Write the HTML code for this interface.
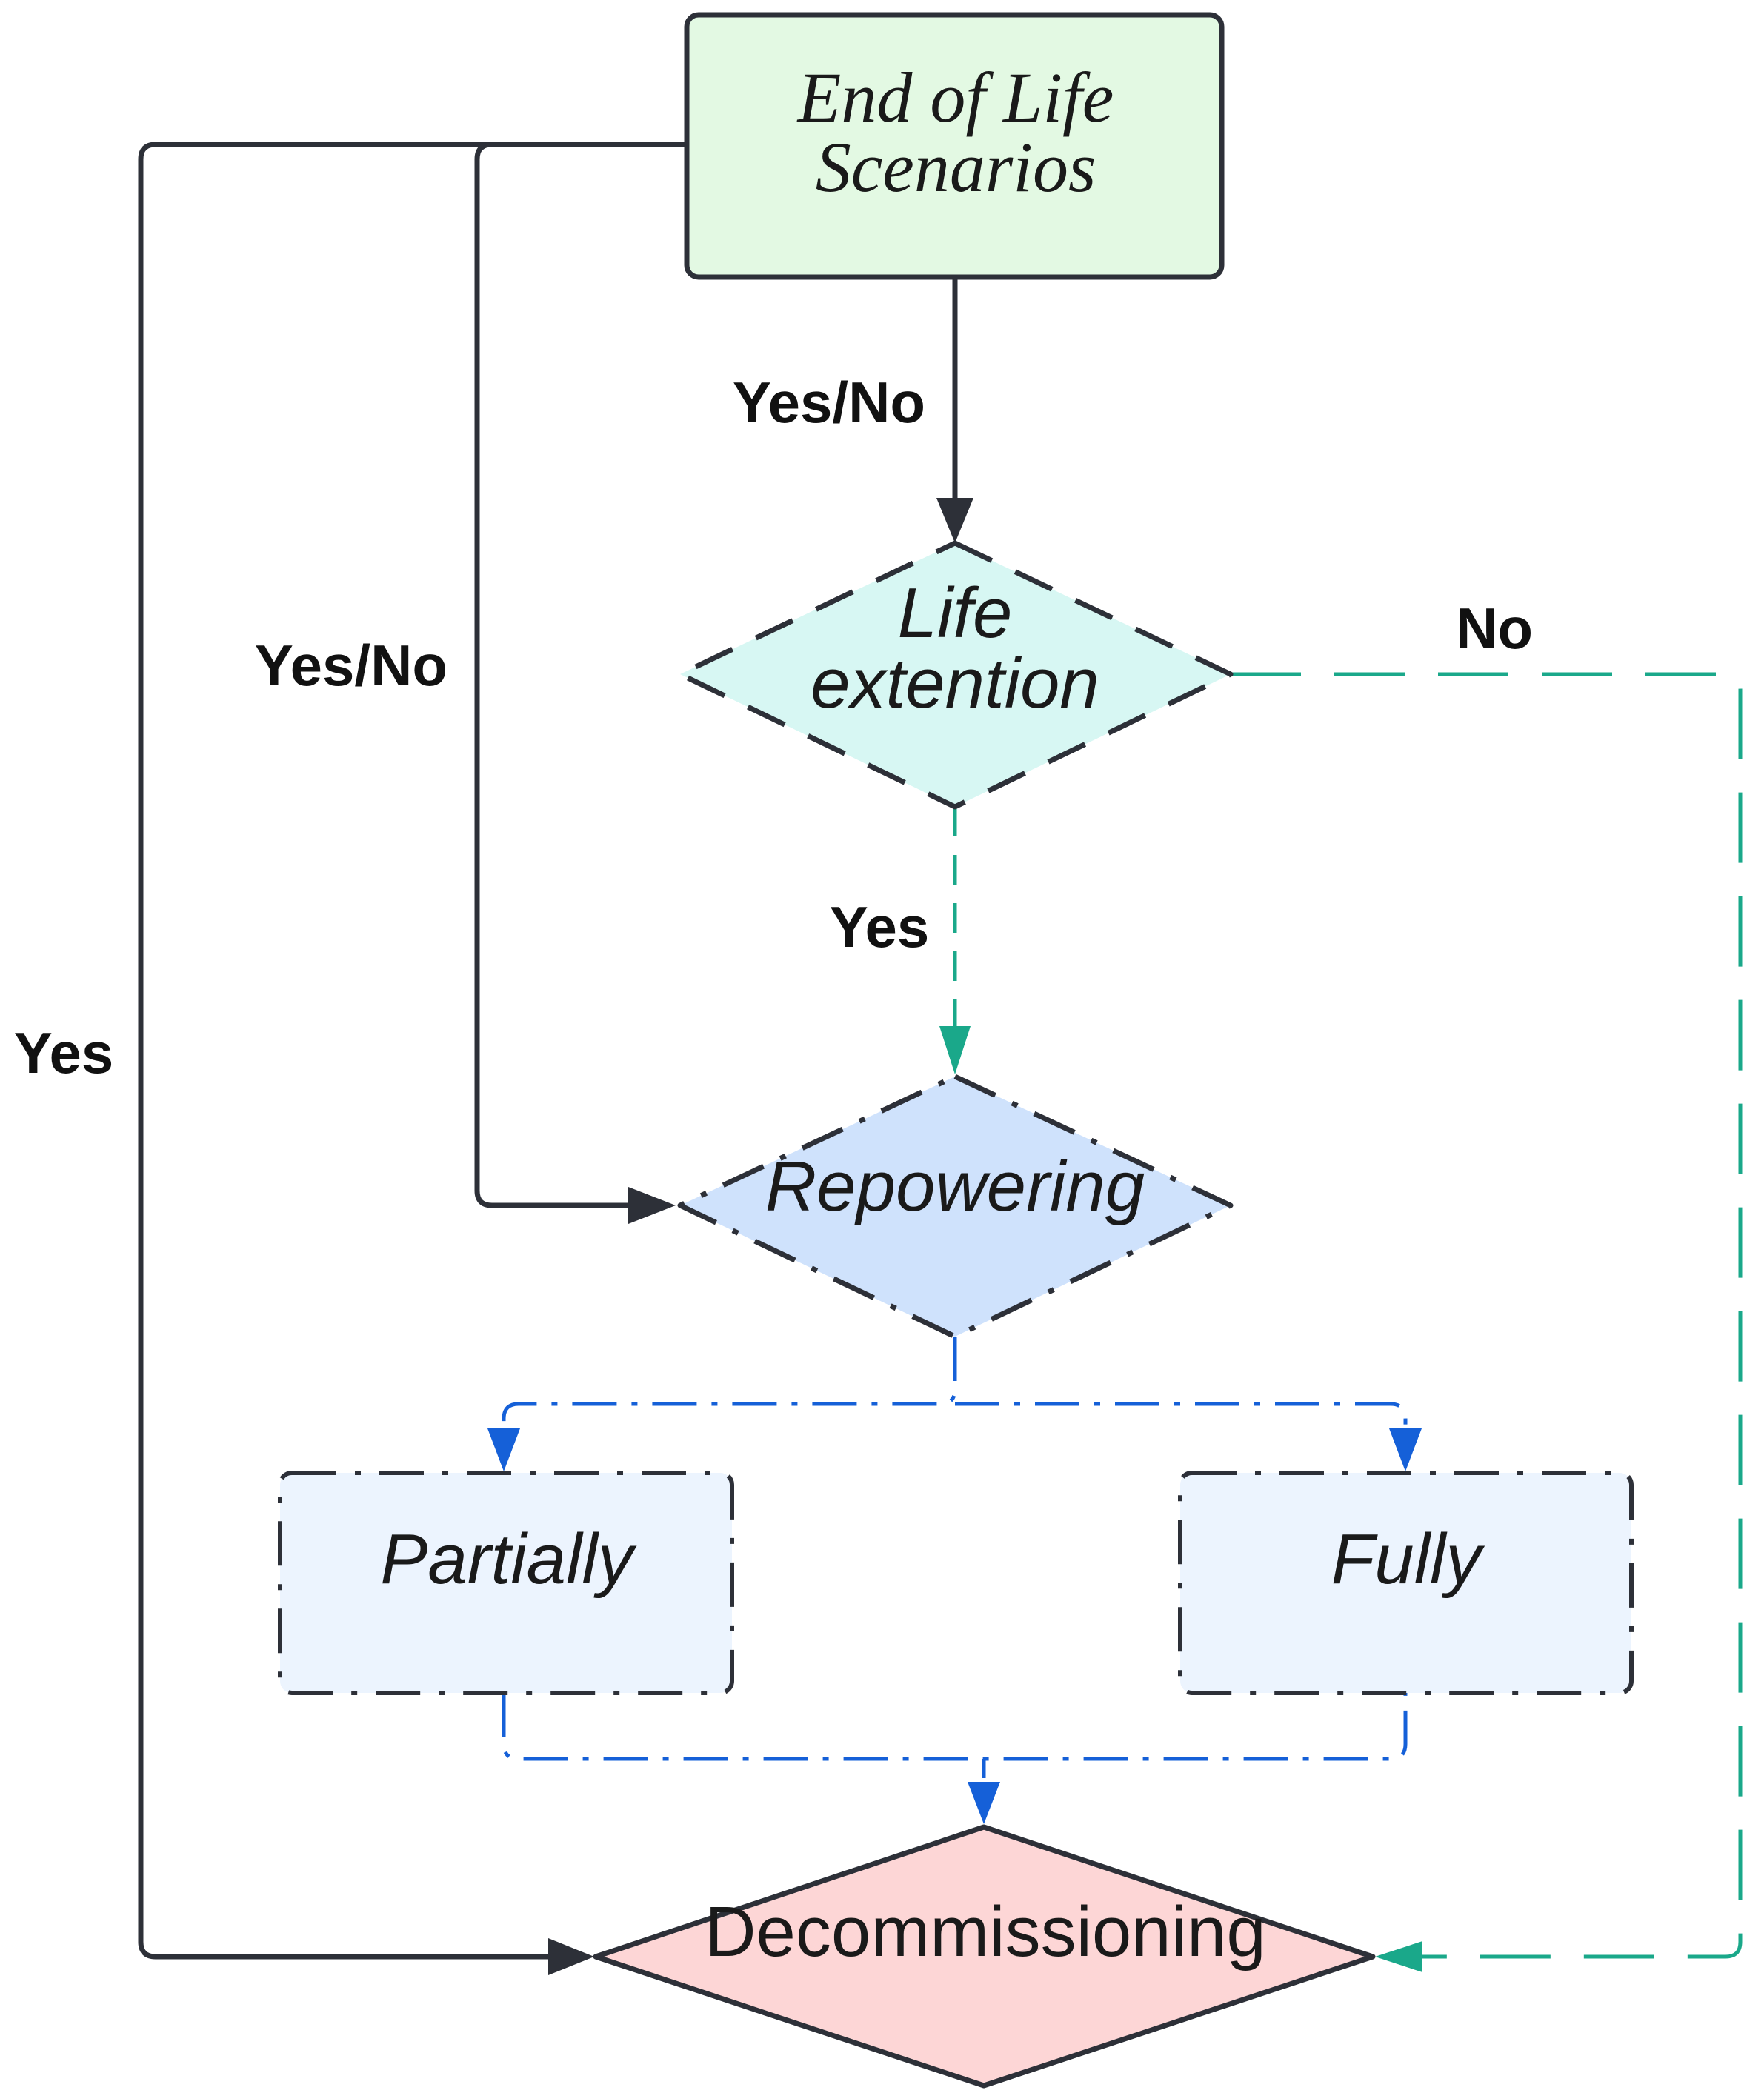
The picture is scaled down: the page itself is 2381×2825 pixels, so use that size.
<!DOCTYPE html>
<html><head><meta charset="utf-8"><style>
html,body{margin:0;padding:0;background:#fff;}
svg{display:block;}
.lbl{font-family:"Liberation Sans",Arial,sans-serif;font-weight:bold;font-size:78px;fill:#111;}
.node{font-family:"Liberation Sans",Arial,sans-serif;font-style:italic;font-size:96px;fill:#1a1a1a;}
</style></head><body>
<svg width="2381" height="2825" viewBox="0 0 2381 2825" xmlns="http://www.w3.org/2000/svg">
<!-- connectors black -->
<g fill="none" stroke="#2d3038" stroke-width="7" stroke-linejoin="round">
<path d="M925 195 H210 Q190 195 190 215 V2621 Q190 2641 210 2641 H760"/>
<path d="M925 195 H664 Q644 195 644 215 V1607 Q644 1627 664 1627 H860"/>
<path d="M1289 376 V680"/>
</g>
<g fill="#2d3038">
<path d="M1264 672 L1314 672 L1289 733 Z"/>
<path d="M848 1602 L848 1652 L912 1627 Z"/>
<path d="M740 2616 L740 2666 L802 2641 Z"/>
</g>
<!-- green dashed -->
<g fill="none" stroke="#1aa88a" stroke-width="5">
<path d="M1661 910 H2329 Q2349 910 2349 930 V2621 Q2349 2641 2329 2641 H1900" stroke-dasharray="95 45"/>
<path d="M1289 1089 V1390" stroke-dasharray="40 25"/>
</g>
<g fill="#1aa88a">
<path d="M1268 1385 L1310 1385 L1289 1450 Z"/>
<path d="M1920 2620 L1920 2662 L1856 2641 Z"/>
</g>
<!-- blue dash-dot -->
<g fill="none" stroke="#1560d8" stroke-width="5" stroke-dasharray="60 20 8 20">
<path d="M1289 1804 V1875 Q1289 1895 1269 1895 H700 Q680 1895 680 1915 V1940"/>
<path d="M1289 1895 H1877 Q1897 1895 1897 1915 V1940"/>
<path d="M680 2285 V2354 Q680 2374 700 2374 H1877 Q1897 2374 1897 2354 V2285"/>
<path d="M1328 2374 V2400"/>
</g>
<g fill="#1560d8">
<path d="M658 1928 L702 1928 L680 1986 Z"/>
<path d="M1875 1928 L1919 1928 L1897 1986 Z"/>
<path d="M1306 2405 L1350 2405 L1328 2462 Z"/>
</g>
<!-- nodes -->
<rect x="927" y="20" width="722" height="354" rx="16" fill="#e3f9e3" stroke="#2d3038" stroke-width="7"/>
<path d="M1289 733 L1661 910 L1289 1089 L918 910 Z" fill="#d7f7f3" stroke="#2d3038" stroke-width="7" stroke-dasharray="55 35" stroke-linejoin="round"/>
<path d="M1289 1453 L1661 1627 L1289 1804 L918 1627 Z" fill="#cfe2fc" stroke="#2d3038" stroke-width="7" stroke-dasharray="60 25 8 25" stroke-linejoin="round"/>
<rect x="378" y="1988" width="610" height="297" rx="16" fill="#ecf4fe" stroke="#2d3038" stroke-width="6" stroke-dasharray="60 25 8 25"/>
<rect x="1593" y="1988" width="609" height="297" rx="16" fill="#ecf4fe" stroke="#2d3038" stroke-width="6" stroke-dasharray="60 25 8 25"/>
<path d="M1328 2466 L1853 2641 L1328 2815 L804 2641 Z" fill="#fdd6d6" stroke="#2d3038" stroke-width="7" stroke-linejoin="round"/>
<!-- node text -->
<g text-anchor="middle">
<text x="1290" y="164" font-family="'Liberation Serif',serif" font-style="italic" font-size="96" fill="#1a1a1a">End of Life</text>
<text x="1290" y="258" font-family="'Liberation Serif',serif" font-style="italic" font-size="96" fill="#1a1a1a">Scenarios</text>
<text class="node" x="1289" y="860">Life</text>
<text class="node" x="1289" y="955">extention</text>
<text class="node" x="1289" y="1634">Repowering</text>
<text class="node" x="684" y="2137">Partially</text>
<text class="node" x="1898" y="2137">Fully</text>
<text x="1330" y="2640" font-family="'Liberation Sans',Arial,sans-serif" font-size="96" fill="#1a1a1a">Decommissioning</text>
</g>
<!-- labels -->
<g text-anchor="middle">
<text class="lbl" x="1119" y="570">Yes/No</text>
<text class="lbl" x="474" y="925">Yes/No</text>
<text class="lbl" x="2017" y="875">No</text>
<text class="lbl" x="1187" y="1278">Yes</text>
<text class="lbl" x="86" y="1448">Yes</text>
</g>
</svg>
</body></html>
